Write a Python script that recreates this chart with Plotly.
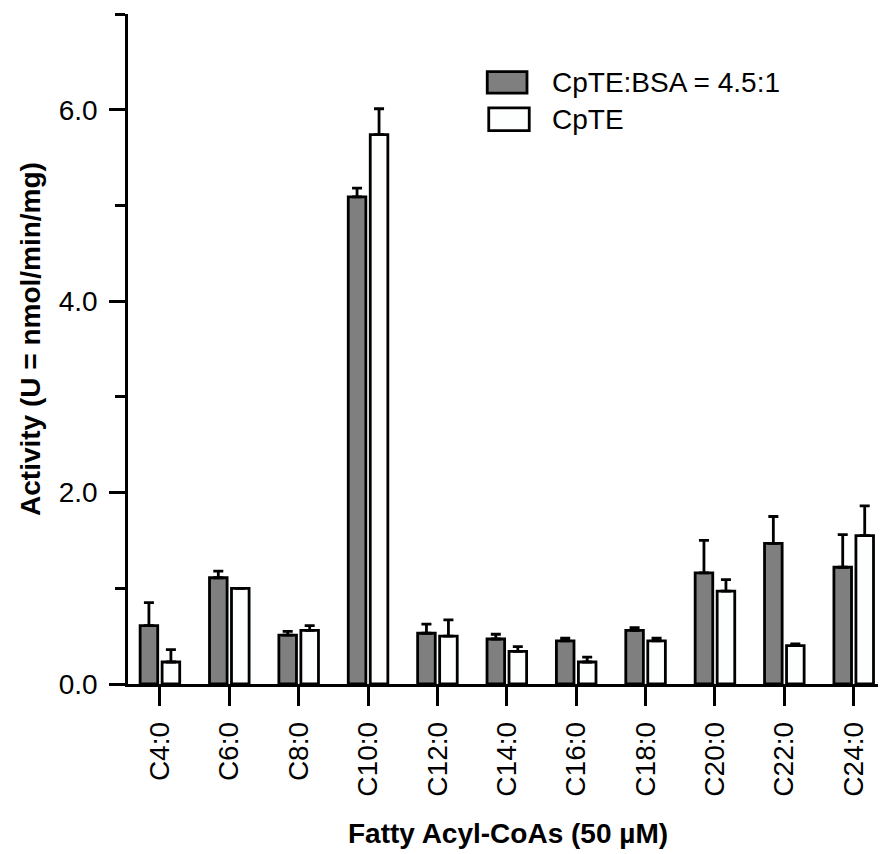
import plotly.graph_objects as go

categories = ["C4:0", "C6:0", "C8:0", "C10:0", "C12:0", "C14:0", "C16:0", "C18:0", "C20:0", "C22:0", "C24:0"]
bsa_values = [0.61, 1.11, 0.51, 5.09, 0.53, 0.47, 0.45, 0.56, 1.16, 1.47, 1.22]
bsa_errors = [0.24, 0.07, 0.04, 0.09, 0.095, 0.05, 0.03, 0.03, 0.34, 0.28, 0.34]
cpte_values = [0.23, 1.00, 0.56, 5.74, 0.50, 0.34, 0.23, 0.45, 0.97, 0.40, 1.55]
cpte_errors = [0.13, 0.0, 0.05, 0.27, 0.17, 0.05, 0.05, 0.03, 0.12, 0.02, 0.31]
y_tick_values = [0, 2, 4, 6]
y_tick_labels = ["0.0", "2.0", "4.0", "6.0"]
series_names = ["CpTE:BSA = 4.5:1", "CpTE"]

FONT = "Arial, Liberation Sans, Helvetica, sans-serif"
GRAY = "#7f7f7f"
WHITE = "#fcfffe"
FS = 28

fig = go.Figure()
for name, vals, errs, color in [
    (series_names[0], bsa_values, bsa_errors, GRAY),
    (series_names[1], cpte_values, cpte_errors, WHITE),
]:
    fig.add_trace(go.Bar(
        x=categories, y=vals, name=name,
        marker=dict(color=color, line=dict(color="black", width=2.8)),
        error_y=dict(type="data", symmetric=False, array=errs,
                     arrayminus=[0] * len(errs), color="black",
                     thickness=2.8, width=5),
        showlegend=False,
    ))

fig.update_layout(
    width=880, height=854,
    margin=dict(l=128, r=2, t=14, b=170),
    paper_bgcolor="white", plot_bgcolor="white",
    barmode="group", bargap=0.366, bargroupgap=0.2,
    font=dict(family=FONT, size=FS, color="black"),
)

fig.update_xaxes(
    type="category", range=[-0.46, 10.35],
    showline=True, linecolor="black", linewidth=2.5,
    ticks="outside", ticklen=19, tickwidth=2.5, tickcolor="black",
    tickangle=-90, tickfont=dict(size=FS), showgrid=False, zeroline=False,
    ticklabelstandoff=5,
)
fig.update_yaxes(
    range=[0, 7], tickvals=y_tick_values, ticktext=y_tick_labels,
    showline=True, linecolor="black", linewidth=2.5,
    ticks="outside", ticklen=16, tickwidth=2.5, tickcolor="black",
    tickfont=dict(size=FS), showgrid=False, zeroline=False,
    minor=dict(tickvals=[1, 3, 5, 7], ticks="outside", ticklen=10,
               tickwidth=2.5, tickcolor="black", showgrid=False),
    ticklabelstandoff=6,
)

# axis titles
fig.add_annotation(text="<b>Fatty Acyl-CoAs (50 µM)</b>", xref="paper", yref="paper",
                   x=0.507, y=-0.2224, xanchor="center", yanchor="middle",
                   showarrow=False, font=dict(size=FS))
fig.add_annotation(text="<b>Activity (U = nmol/min/mg)</b>", xref="paper", yref="paper",
                   x=-0.1293, y=0.515, xanchor="center", yanchor="middle",
                   textangle=-90, showarrow=False, font=dict(size=FS))

# legend (manual)
fig.add_shape(type="rect", xref="paper", yref="paper", x0=0.479, x1=0.532, y0=0.882, y1=0.914,
              fillcolor=GRAY, line=dict(color="black", width=2.8))
fig.add_shape(type="rect", xref="paper", yref="paper", x0=0.481, x1=0.535, y0=0.826, y1=0.860,
              fillcolor=WHITE, line=dict(color="black", width=2.8))
fig.add_annotation(text=series_names[0], xref="paper", yref="paper", x=0.563, y=0.898,
                   xanchor="left", yanchor="middle", showarrow=False, font=dict(size=FS))
fig.add_annotation(text=series_names[1], xref="paper", yref="paper", x=0.563, y=0.843,
                   xanchor="left", yanchor="middle", showarrow=False, font=dict(size=FS))

fig.write_html("out.html", config={"displayModeBar": False},
               post_script="document.body.style.margin='0';document.body.style.overflow='hidden';")
